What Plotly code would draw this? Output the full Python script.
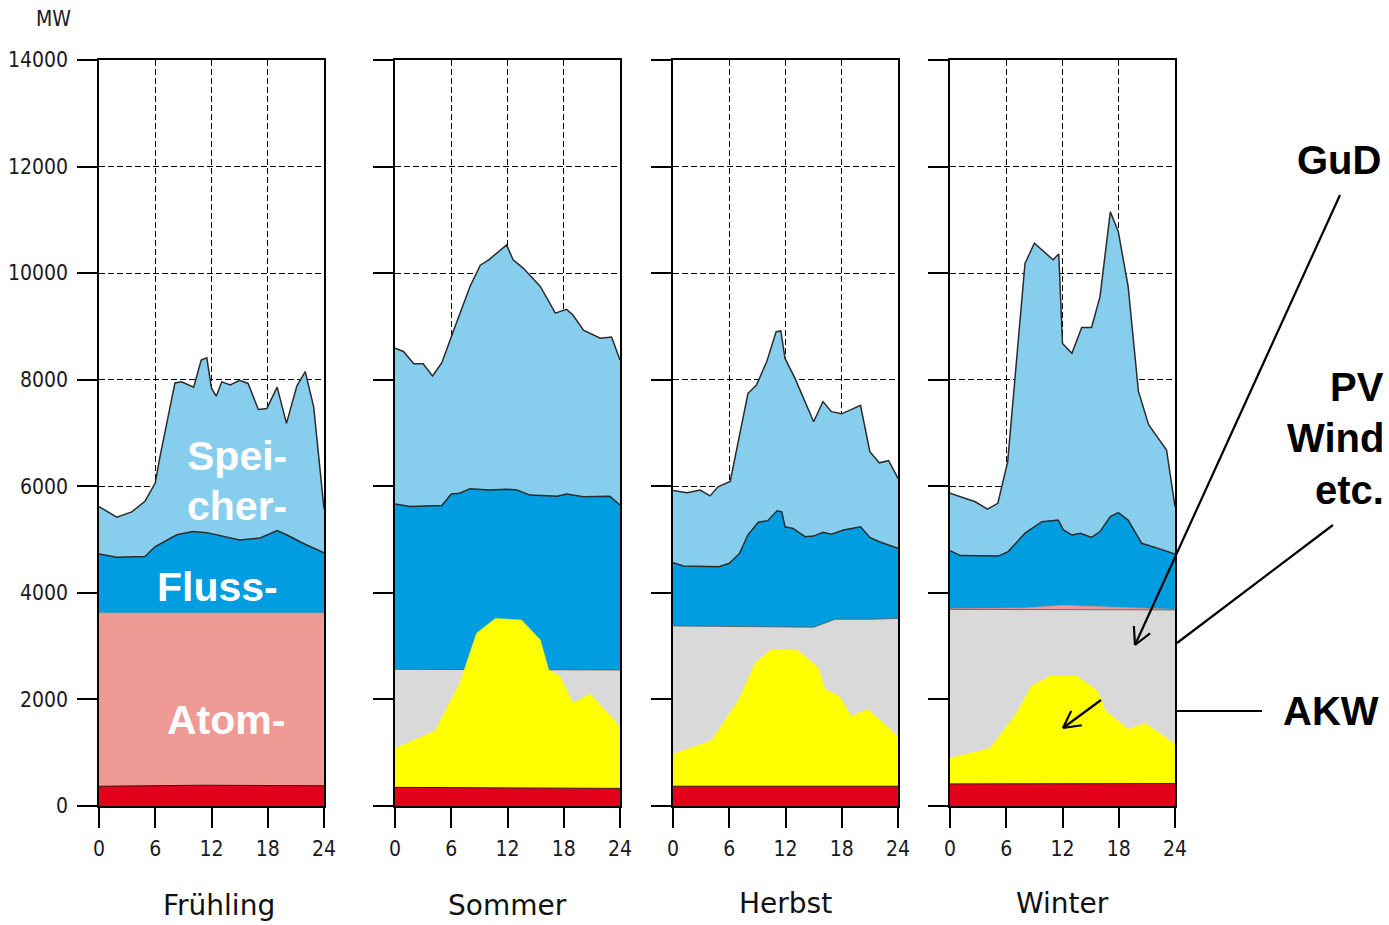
import math
import plotly.graph_objects as go

# ---------------- data (MW by hour of day) ----------------
seasons = ["Frühling", "Sommer", "Herbst", "Winter"]
hour_ticks = [0, 6, 12, 18, 24]
mw_ticks = [0, 2000, 4000, 6000, 8000, 10000, 12000, 14000]
mw_tick_labels = ["0", "2000", "4000", "6000", "8000", "10000", "12000", "14000"]

# Frühling – upper boundaries of each layer
fr_speicher_h = [0, 1.9, 3.5, 4.9, 6.0, 6.5, 8.1, 8.8, 10.1, 10.9, 11.5, 12.0, 12.5, 13.1, 14.0, 15.0, 15.9, 17.0, 17.9, 19.0, 20.0, 21.1, 22.0, 22.9, 24]
fr_speicher_mw = [5620, 5420, 5520, 5720, 6060, 6550, 7940, 7960, 7860, 8370, 8410, 7840, 7690, 7960, 7900, 7990, 7930, 7440, 7460, 7860, 7180, 7880, 8150, 7490, 5580]
fr_fluss_h = [0, 1.9, 4.9, 6.0, 8.3, 10.0, 11.5, 15.0, 17.2, 19.0, 20.0, 21.7, 24]
fr_fluss_mw = [4730, 4670, 4680, 4870, 5090, 5150, 5130, 4990, 5030, 5170, 5090, 4935, 4750]
fr_atom_h = [0, 12, 24]
fr_atom_mw = [3620, 3625, 3620]
fr_base_h = [0, 11, 24]
fr_base_mw = [370, 390, 380]

# Sommer
so_speicher_h = [0, 0.9, 2.0, 3.0, 4.0, 5.0, 6.2, 8.0, 9.1, 10.0, 11.9, 12.6, 13.7, 15.5, 17.1, 18.3, 19.0, 20.1, 21.9, 23.1, 24]
so_speicher_mw = [8590, 8530, 8300, 8300, 8070, 8320, 8900, 9750, 10150, 10250, 10530, 10250, 10090, 9750, 9250, 9320, 9210, 8930, 8780, 8800, 8370]
so_fluss_h = [0, 1.6, 5.0, 6.0, 6.9, 8.0, 10.1, 11.9, 13.0, 14.4, 17.3, 18.3, 20.1, 22.9, 24]
so_fluss_mw = [5670, 5620, 5640, 5855, 5870, 5955, 5930, 5945, 5930, 5835, 5815, 5855, 5805, 5815, 5650]
so_gud_h = [0, 12, 24]
so_gud_mw = [2565, 2560, 2552]
so_pv_h = [0, 4.3, 6.9, 8.7, 10.7, 13.5, 15.5, 16.4, 17.6, 19.0, 20.8, 22.9, 23.9, 24]
so_pv_mw = [1080, 1410, 2300, 3240, 3520, 3490, 3115, 2550, 2430, 1930, 2100, 1710, 1490, 1460]
so_base_h = [0, 24]
so_base_mw = [350, 330]

# Herbst
he_speicher_h = [0, 1.5, 2.9, 3.95, 4.8, 6.1, 8.0, 8.9, 10.0, 11.0, 11.5, 11.95, 13.0, 14.1, 15.0, 16.0, 16.9, 18.0, 20.0, 21.0, 22.0, 23.0, 24]
he_speicher_mw = [5920, 5880, 5930, 5820, 5990, 6090, 7745, 7900, 8340, 8900, 8915, 8400, 8030, 7560, 7210, 7590, 7400, 7360, 7520, 6650, 6440, 6480, 6150]
he_fluss_h = [0, 1.1, 4.9, 6.0, 7.1, 8.0, 9.1, 10.1, 11.1, 11.6, 11.95, 12.8, 14.1, 15.0, 16.0, 16.9, 18.2, 20.0, 21.0, 22.0, 24]
he_fluss_mw = [4565, 4505, 4490, 4555, 4740, 5090, 5325, 5355, 5540, 5520, 5240, 5210, 5055, 5065, 5135, 5100, 5180, 5240, 5040, 4960, 4835]
he_gud_h = [0, 15.0, 17.3, 21.0, 24]
he_gud_mw = [3380, 3355, 3505, 3505, 3520]
he_pv_h = [0, 4.1, 7.0, 8.8, 10.5, 13.2, 15.5, 16.2, 17.8, 19.0, 20.8, 24]
he_pv_mw = [975, 1225, 1990, 2690, 2940, 2930, 2600, 2190, 2050, 1680, 1815, 1300]
he_base_h = [0, 24]
he_base_mw = [370, 370]

# Winter
wi_speicher_h = [0, 2.7, 4.0, 5.1, 6.15, 8.0, 9.0, 11.0, 11.6, 12.0, 13.0, 14.05, 15.1, 16.0, 17.1, 17.95, 19.0, 20.1, 21.2, 23.1, 24]
wi_speicher_mw = [5870, 5710, 5570, 5680, 6460, 10180, 10560, 10250, 10360, 8680, 8495, 8980, 8980, 9560, 11150, 10780, 9750, 7780, 7150, 6680, 5620]
wi_fluss_h = [0, 1.1, 5.15, 6.2, 8.0, 9.8, 11.55, 12.1, 13.0, 13.9, 15.1, 16.0, 17.1, 17.95, 19.0, 20.45, 22.2, 24]
wi_fluss_mw = [4790, 4700, 4690, 4775, 5120, 5335, 5365, 5180, 5085, 5120, 5040, 5150, 5430, 5505, 5365, 4930, 4835, 4730]
wi_atom_h = [0, 8, 12, 16, 20, 24]
wi_atom_mw = [3700, 3715, 3765, 3740, 3705, 3690]
wi_gud_h = [0, 24]
wi_gud_mw = [3690, 3680]
wi_pv_h = [0, 4.3, 7.1, 8.7, 10.7, 13.5, 15.6, 16.2, 16.5, 19.0, 20.8, 22.9, 24]
wi_pv_mw = [895, 1085, 1740, 2250, 2440, 2440, 2180, 1990, 1800, 1440, 1550, 1300, 1145]
wi_base_h = [0, 8, 24]
wi_base_mw = [415, 420, 420]

season_layers = [
    [("speicher", fr_speicher_h, fr_speicher_mw), ("fluss", fr_fluss_h, fr_fluss_mw),
     ("atom", fr_atom_h, fr_atom_mw), ("base", fr_base_h, fr_base_mw)],
    [("speicher", so_speicher_h, so_speicher_mw), ("fluss", so_fluss_h, so_fluss_mw),
     ("gud", so_gud_h, so_gud_mw), ("pv", so_pv_h, so_pv_mw), ("base", so_base_h, so_base_mw)],
    [("speicher", he_speicher_h, he_speicher_mw), ("fluss", he_fluss_h, he_fluss_mw),
     ("gud", he_gud_h, he_gud_mw), ("pv", he_pv_h, he_pv_mw), ("base", he_base_h, he_base_mw)],
    [("speicher", wi_speicher_h, wi_speicher_mw), ("fluss", wi_fluss_h, wi_fluss_mw),
     ("atom", wi_atom_h, wi_atom_mw), ("gud", wi_gud_h, wi_gud_mw),
     ("pv", wi_pv_h, wi_pv_mw), ("base", wi_base_h, wi_base_mw)],
]

# ---------------- styling ----------------
W, H = 1389, 925
FILL = {"speicher": "#87CEEE", "fluss": "#009EE0", "atom": "#F09A96",
        "gud": "#D9D9D9", "pv": "#FFFF00", "base": "#E2001A"}
EDGE = {"speicher": ("#2b2b2b", 1.5), "fluss": ("#2b2b2b", 1.5), "atom": ("#E88C88", 0.8),
        "gud": ("#555555", 0.8), "pv": ("#FFFF00", 0.5), "base": ("#3a1010", 1.0)}

panels_px = [(99, 324), (395, 620), (673, 898), (950, 1175)]
y_top_px, y_bot_px = 60, 806
ydom = [1 - y_bot_px / H, 1 - y_top_px / H]

TICKFONT = dict(family="Liberation Sans Narrow, DejaVu Sans Condensed, sans-serif", size=21, color="#1a1a1a")
BOLD = "Liberation Sans, Arial, sans-serif"

fig = go.Figure()
layout = {}
for i, layers in enumerate(season_layers):
    k = "" if i == 0 else str(i + 1)
    for name, hh, mw in layers:
        col, lw = EDGE[name]
        fig.add_trace(go.Scatter(
            x=hh, y=mw, mode="lines", fill="tozeroy", fillcolor=FILL[name],
            line=dict(color=col, width=lw), xaxis="x" + k, yaxis="y" + k,
            showlegend=False, hoverinfo="skip"))
    x0, x1 = panels_px[i]
    layout["xaxis" + k] = dict(
        domain=[x0 / W, x1 / W], range=[0, 24], anchor="y" + k, automargin=False,
        tickvals=hour_ticks, ticktext=[str(h) for h in hour_ticks],
        ticks="outside", ticklen=20, tickwidth=1.5, tickcolor="black",
        tickfont=TICKFONT, ticklabelstandoff=3,
        showgrid=True, gridcolor="black", gridwidth=1, griddash="6px,3px",
        showline=True, linecolor="black", linewidth=1.5, mirror=True, zeroline=False)
    layout["yaxis" + k] = dict(
        domain=ydom, range=[0, 14000], anchor="x" + k, automargin=False,
        tickvals=mw_ticks, ticktext=mw_tick_labels,
        ticks="outside", ticklen=20, tickwidth=1.5, tickcolor="black",
        showticklabels=(i == 0), tickfont=TICKFONT, ticklabelstandoff=5,
        showgrid=True, gridcolor="black", gridwidth=1, griddash="6px,3px",
        showline=True, linecolor="black", linewidth=1.5, mirror=True, zeroline=False)

def px(x, y):
    return x / W, 1 - y / H

annotations = []
def text(x, y, s, size, family, color="black", xanchor="center", bold=False):
    ax, ay = px(x, y)
    annotations.append(dict(x=ax, y=ay, xref="paper", yref="paper", text=("<b>%s</b>" % s) if bold else s,
                            showarrow=False, xanchor=xanchor, yanchor="middle",
                            font=dict(size=size, family=family, color=color)))

text(53, 19, "MW", 21, TICKFONT["family"], color="#1a1a1a")
season_pos = [(219, 905), (507, 905), (785, 903), (1062, 903)]
for s, (x, y) in zip(seasons, season_pos):
    text(x, y, s, 28, "DejaVu Sans, sans-serif", color="#111111")

for s, (x, y) in zip(["Spei-", "cher-", "Fluss-", "Atom-"], [(237, 456), (237, 506), (218, 587), (226, 720)]):
    text(x, y, s, 41, BOLD, color="white", bold=True)

text(1383, 160, "GuD", 40, BOLD, xanchor="right", bold=True)
text(1386, 387, "PV", 40, BOLD, xanchor="right", bold=True)
text(1386, 438, "Wind", 40, BOLD, xanchor="right", bold=True)
text(1386, 490, "etc.", 40, BOLD, xanchor="right", bold=True)
text(1381, 711, "AKW", 40, BOLD, xanchor="right", bold=True)

shapes = []
def seg(xa, ya, xb, yb, w=2.2):
    a = px(xa, ya); b = px(xb, yb)
    shapes.append(dict(type="line", xref="paper", yref="paper", x0=a[0], y0=a[1], x1=b[0], y1=b[1],
                       line=dict(color="black", width=w)))

def arrow(tail, tip, head=19, ang=28):
    seg(tail[0], tail[1], tip[0], tip[1])
    dx, dy = tail[0] - tip[0], tail[1] - tip[1]
    th = math.atan2(dy, dx)
    for s in (-1, 1):
        a = th + s * math.radians(ang)
        seg(tip[0], tip[1], tip[0] + head * math.cos(a), tip[1] + head * math.sin(a))

arrow((1340, 195), (1135, 645))
arrow((1101, 700), (1063, 728))
seg(1333, 525, 1177, 643)
seg(1262, 711, 1177, 711)

fig.update_layout(
    width=W, height=H, margin=dict(l=0, r=0, t=0, b=0, pad=0, autoexpand=False),
    paper_bgcolor="white", plot_bgcolor="white",
    annotations=annotations, shapes=shapes, **layout)

fig.write_html("out.html", config={"displayModeBar": False},
               post_script="document.body.style.margin='0';document.body.style.padding='0';"
                           "document.body.style.overflow='hidden';")
